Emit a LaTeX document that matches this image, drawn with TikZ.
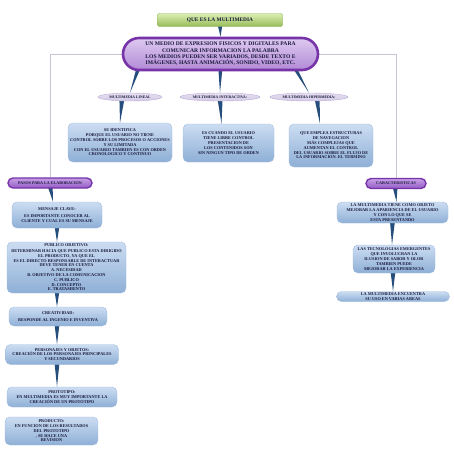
\documentclass[tikz,border=0pt]{standalone}
\usepackage{fontspec}
\setmainfont{Liberation Serif}
\usepackage{xcolor}
\usepackage{tikz}
\usetikzlibrary{shapes.geometric, calc, positioning}
\definecolor{boxtop}{RGB}{204,221,242}
\definecolor{boxbot}{RGB}{142,175,214}
\definecolor{boxline}{RGB}{160,188,222}
\definecolor{pilldark}{RGB}{118,52,168}
\definecolor{pilltop}{RGB}{222,202,240}
\definecolor{pillbot}{RGB}{178,138,214}
\definecolor{tagtop}{RGB}{198,160,230}
\definecolor{tagbot}{RGB}{148,92,198}
\definecolor{ovalfill}{RGB}{212,202,230}
\definecolor{ovalline}{RGB}{186,174,214}
\definecolor{titletop}{RGB}{220,238,180}
\definecolor{titlebot}{RGB}{150,188,88}
\definecolor{titleline}{RGB}{138,172,86}
\definecolor{taperblue}{RGB}{38,78,125}
\definecolor{linkgray}{RGB}{200,198,210}
\definecolor{inktext}{RGB}{24,24,58}
\pgfdeclarelayer{background}
\pgfsetlayers{background,main}
\newcommand{\taper}[2]{\fill[taper] ($#1+(-2.6,0)$) -- ($#1+(2.6,0)$) -- #2 -- cycle;}

\begin{document}
\begin{tikzpicture}[
  x=1pt, y=-1pt,
  box/.style={rectangle, draw=boxline, top color=boxtop, bottom color=boxbot, rounded corners=5pt, inner sep=1pt, align=center, text=inktext, font=\fontsize{4.3}{4.8}\selectfont\bfseries},
  pill/.style={rectangle, draw=pilldark, line width=1.4pt, top color=tagtop, bottom color=tagbot, rounded corners=5pt, inner sep=0pt, align=center, text=inktext, font=\fontsize{4.1}{4.6}\selectfont\bfseries},
  oval/.style={ellipse, draw=ovalline, top color=ovalfill!60!white, bottom color=ovalfill, inner sep=0pt, text=inktext, font=\fontsize{3.8}{4.2}\selectfont\bfseries},
  topbox/.style={rectangle, draw=titleline, top color=titletop, bottom color=titlebot, rounded corners=2pt, inner sep=0pt, text=inktext, font=\fontsize{5.4}{6}\selectfont\bfseries},
  taper/.style={fill=taperblue},
  link/.style={draw=linkgray, line width=0.9pt},
]
\useasboundingbox (0,0) rectangle (453,453);

% centre
\node[topbox, minimum width=125pt, minimum height=13pt] (title) at (220,20) {QUE ES LA MULTIMEDIA};
\node[pill, line width=2.6pt, rounded corners=16pt, top color=pilltop, bottom color=pillbot, minimum width=195pt, minimum height=32pt, font=\fontsize{5.6}{6.3}\selectfont\bfseries] (main) at (220.5,54)
  {UN MEDIO DE EXPRESION FISICOS Y DIGITALES PARA\\COMUNICAR INFORMACION LA PALABRA\\LOS MEDIOS PUEDEN SER VARIADOS, DESDE TEXTO E\\IMÁGENES, HASTA ANIMACIÓN, SONIDO, VIDEO, ETC.};

\node[oval, minimum width=64pt, minimum height=8pt] (lineal) at (130,97) {MULTIMEDIA LINEAL};
\node[oval, minimum width=80pt, minimum height=8pt] (interact) at (220,97) {MULTIMEDIA INTERACTIVA:};
\node[oval, minimum width=78pt, minimum height=8pt] (hiper) at (309,97) {MULTIMEDIA HIPERMEDIA:};

\node[box, minimum width=104pt, minimum height=39pt] (lin1) at (120,142.5)
  {SE IDENTIFICA\\PORQUE EL USUARIO NO TIENE\\CONTROL SOBRE LOS PROCESOS O ACCIONES\\Y SU LIMITADA\\CON EL USUARIO TAMBIEN ES CON ORDEN\\CRONOLOGICO Y CONTINUO};
\node[box, minimum width=91pt, minimum height=38pt] (int1) at (228.5,143)
  {ES CUANDO EL USUARIO\\TIENE LIBRE CONTROL\\PRESENTACION DE\\LOS CONTENIDOS SON\\SIN NINGUN TIPO DE ORDEN};
\node[box, minimum width=84pt, minimum height=43pt] (hip1) at (331,145.5)
  {QUE EMPLEA ESTRUCTURAS\\DE NAVEGACION\\MÁS COMPLEJAS QUE\\AUMENTAN EL CONTROL\\DEL USUARIO SOBRE EL FLUJO DE\\LA INFORMACION. EL TERMINO};

% pasos
\node[pill, minimum width=84pt, minimum height=10pt] (pasos) at (50,183) {PASOS PARA LA ELABORACION};
\node[box, minimum width=90pt, minimum height=26pt] (mensaje) at (57,215)
  {MENSAJE CLAVE:\\[2pt]ES IMPORTANTE CONOCER AL\\CLIENTE Y CUAL ES SU MENSAJE};
\node[box, minimum width=119pt, minimum height=51pt] (publico) at (66.5,267.5)
  {PUBLICO OBJETIVO:\\[1pt]DETERMINAR HACIA QUE PUBLICO ESTA DIRIGIDO\\EL PRODUCTO, YA QUE EL\\ES EL DIRECTO RESPONSABLE DE INTERACTUAR\\DEVE TENER EN CUENTA\\A. NECESIDAD\\B. OBJETIVO DE LA COMUNICACION\\C. PUBLICO\\D. CONCEPTO\\E. TRATAMIENTO};
\node[box, minimum width=98pt, minimum height=19pt] (creat) at (58,316.5)
  {CREATIVIDAD:\\[2pt]RESPONDE AL INGENIO E INVENTIVA};
\node[box, minimum width=113pt, minimum height=20pt] (personajes) at (62,354.5)
  {PERSONAJES Y OBJETOS:\\CREACIÓN DE LOS PERSONAJES PRINCIPALES\\Y SECUNDARIOS};
\node[box, minimum width=110pt, minimum height=20pt] (prototipo) at (62,397)
  {PROTOTIPO:\\EN MULTIMEDIA ES MUY IMPORTANTE LA\\CREACIÓN DE UN PROTOTIPO};
\node[box, minimum width=93pt, minimum height=28pt] (producto) at (51.5,431)
  {PRODUCTO:\\EN FUNCION DE LOS RESULTADOS\\DEL PROTOTIPO\\, SE HACE UNA\\REVISION};

% caracteristicas
\node[pill, minimum width=60pt, minimum height=10pt] (caract) at (396,183.5) {CARACTERISTICAS};
\node[box, minimum width=111pt, minimum height=21pt] (car1) at (392.5,212.5)
  {LA MULTIMEDIA TIENE COMO OBJETO\\MEJORAR LA APARIENCIA DE EL USUARIO\\Y CON LO QUE SE\\ESTA PRESENTANDO};
\node[box, minimum width=82pt, minimum height=28pt] (car2) at (394,259)
  {LAS TECNOLOGIAS EMERGENTES\\QUE INVOLUCRAN LA\\ILUSION DE SABOR Y OLOR\\TAMBIEN PUEDE\\MEJORAR LA EXPERIENCIA};
\node[box, minimum width=113pt, minimum height=10pt] (car3) at (393,296.5)
  {LA MULTIMEDIA ENCUENTRA\\SU USO EN VARIAS AREAS};

\begin{pgfonlayer}{background}
\draw[link] (main.west) -| (pasos.north);
\draw[link] (main.east) -| (caract.north);
\taper{(title.south)+(0,-3)}{(main.north)}
\taper{(main.south)+(-80,-9)}{(lineal.north)}
\taper{(main.south)+(0,-9)}{(interact.north)}
\taper{(main.south)+(71,-9)}{(hiper.north)}
\taper{(lineal.south)+(-8,-3)}{(lin1.north)}
\taper{(interact.south)+(0,-3)}{($(int1.north)+(-7,0)$)}
\taper{(hiper.south)+(8,-3)}{($(hip1.north)+(-11,0)$)}
\taper{(pasos.south)+(0,-3)}{($(mensaje.north)+(-4,0)$)}
\taper{(mensaje.south)+(0,-3)}{($(publico.north)+(-9.5,0)$)}
\taper{(publico.south)+(-9.5,-3)}{($(creat.north)+(-1,0)$)}
\taper{(creat.south)+(-1,-3)}{($(personajes.north)+(-5,0)$)}
\taper{(personajes.south)+(-5,-3)}{($(prototipo.north)+(-5,0)$)}
\taper{(caract.south)+(-1,-3)}{($(car1.north)+(4,0)$)}
\taper{(car1.south)+(0,-3)}{($(car2.north)+(-2,0)$)}
\taper{(car2.south)+(-1,-3)}{(car3.north)}
\end{pgfonlayer}
\end{tikzpicture}
\end{document}
